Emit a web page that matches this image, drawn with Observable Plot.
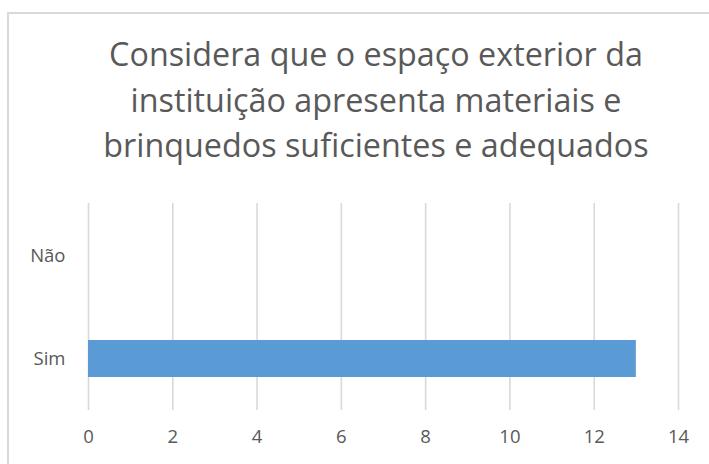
<!DOCTYPE html>
<html>
<head>
<meta charset="utf-8">
<script src="https://cdn.jsdelivr.net/npm/d3@7"></script>
<script src="https://cdn.jsdelivr.net/npm/@observablehq/plot@0.6"></script>
<style>
  html, body { margin: 0; padding: 0; background: #fff; overflow: hidden; }
  body { width: 709px; height: 464px; position: relative; font-family: "Open Sans", sans-serif; }
  #frame { position: absolute; left: 7px; top: 12px; width: 720px; height: 520px; border: 2px solid #d9d9d9; box-sizing: border-box; }
  #title { position: absolute; left: 0; top: 0; width: 709px; height: 190px; text-align: center; color: #595959; font-size: 32.3px; line-height: 45.5px; padding-top: 31px; padding-left: 43px; box-sizing: border-box; white-space: nowrap; }
  #chart { position: absolute; left: 0; top: 190px; }
</style>
</head>
<body>
<div id="frame"></div>
<div id="title">Considera que o espaço exterior da<br>instituição apresenta materiais e<br>brinquedos suficientes e adequados</div>
<div id="chart"></div>
<script>
const categories = ["Sim", "Não"];
const values = [13, 0];
const yOrder = ["Não", "Sim"];
const xTicks = [0, 2, 4, 6, 8, 10, 12, 14];

const data = categories.map((c, i) => ({category: c, value: values[i]}));

const chart = Plot.plot({
  width: 709,
  height: 274,
  marginLeft: 88,
  marginRight: 31,
  marginTop: 13,
  marginBottom: 54,
  style: {fontFamily: "Open Sans, sans-serif", fontSize: "18.5px", color: "#595959", background: "transparent"},
  x: {domain: [0, 14], ticks: xTicks, label: null},
  y: {domain: yOrder, paddingInner: 0.643, paddingOuter: 0.3215, label: null},
  marks: [
    Plot.gridX(xTicks, {stroke: "#d9d9d9", strokeOpacity: 1, strokeWidth: 1.6}),
    Plot.barX(data, {x: "value", y: "category", fill: "#5b9bd5"}),
    Plot.axisX(xTicks, {tickSize: 0, tickPadding: 19, fill: "#595959", label: null}),
    Plot.axisY({tickSize: 0, tickPadding: 23, fill: "#595959", label: null})
  ]
});
document.getElementById("chart").appendChild(chart);
</script>
</body>
</html>
